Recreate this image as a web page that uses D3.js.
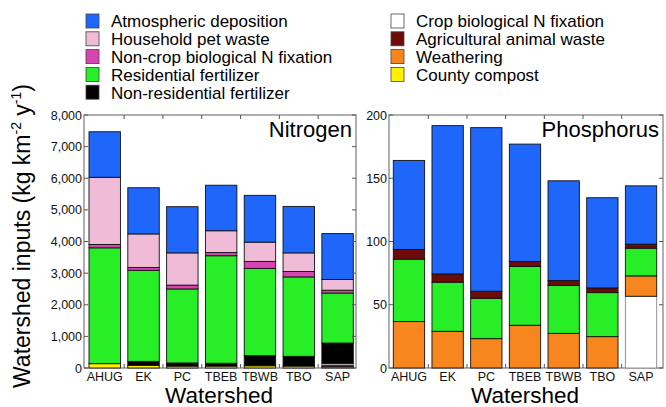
<!DOCTYPE html>
<html><head><meta charset="utf-8">
<script src="https://cdn.jsdelivr.net/npm/d3@7"></script>
<style>body{margin:0;background:#fff}svg{display:block}text{font-family:"Liberation Sans",Arial,sans-serif}</style>
</head><body>
<svg id="c" width="666" height="407"></svg>
<script>
const watersheds = ["AHUG","EK","PC","TBEB","TBWB","TBO","SAP"];
// Nitrogen (kg km-2 y-1)
const nCompost    = [137,85,60,60,70,60,40];
const nAgWaste    = [0,0,0,0,0,0,60];
const nCropFix    = [0,0,0,0,0,0,40];
const nNonResFert = [0,125,100,90,320,310,650];
const nResFert    = [3663,2880,2340,3400,2760,2510,1580];
const nNonCropFix = [105,90,120,100,220,170,90];
const nPetWaste   = [2125,1060,1020,690,610,590,340];
const nAtmDep     = [1440,1460,1460,1440,1480,1470,1450];
// Phosphorus
const pCropFix    = [0,0,0,0,0,0,56.7];
const pWeathering = [36.7,29,23.2,33.8,27.4,24.8,16.1];
const pResFert    = [49.3,38.8,31.9,46.4,37.8,34.8,21.9];
const pAgWaste    = [7.7,6.6,5.6,4,3.9,3.7,3.2];
const pAtmDep     = [70.4,117.2,129.3,92.8,78.9,71.3,46.1];
const nTicks = [0,1000,2000,3000,4000,5000,6000,7000,8000];
const pTicks = [0,50,100,150,200];

const legendLeft = ["Atmospheric deposition","Household pet waste","Non-crop biological N fixation","Residential fertilizer","Non-residential fertilizer"];
const legendRight = ["Crop biological N fixation","Agricultural animal waste","Weathering","County compost"];

const colors = {
  "Atmospheric deposition":"#1f66fb",
  "Household pet waste":"#efbbd6",
  "Non-crop biological N fixation":"#d645b2",
  "Residential fertilizer":"#27ee27",
  "Non-residential fertilizer":"#000000",
  "Crop biological N fixation":"#ffffff",
  "Agricultural animal waste":"#6c0b07",
  "Weathering":"#f7861f",
  "County compost":"#fff000"
};

const nSeries = [
  ["County compost", nCompost],
  ["Agricultural animal waste", nAgWaste],
  ["Crop biological N fixation", nCropFix],
  ["Non-residential fertilizer", nNonResFert],
  ["Residential fertilizer", nResFert],
  ["Non-crop biological N fixation", nNonCropFix],
  ["Household pet waste", nPetWaste],
  ["Atmospheric deposition", nAtmDep]
];
const pSeries = [
  ["Crop biological N fixation", pCropFix],
  ["Weathering", pWeathering],
  ["Residential fertilizer", pResFert],
  ["Agricultural animal waste", pAgWaste],
  ["Atmospheric deposition", pAtmDep]
];

const svg = d3.select("#c");

function panel(opts){
  const {fx0,fx1,fy0,fy1,bx0,bx1,domainMax,ticks,series,title,fmt} = opts;
  const x = d3.scaleBand().domain(watersheds).range([bx0,bx1]).paddingInner(0.19).paddingOuter(0);
  const y = d3.scaleLinear().domain([0,domainMax]).range([fy1,fy0]);
  const rows = watersheds.map((w,i)=>{const o={w}; series.forEach(([k,v])=>o[k]=v[i]); return o;});
  const stack = d3.stack().keys(series.map(s=>s[0]))(rows);
  const g = svg.append("g");
  g.append("rect").attr("x",fx0).attr("y",fy0).attr("width",fx1-fx0).attr("height",fy1-fy0)
    .attr("fill","none").attr("stroke","#7a7a7a").attr("stroke-width",1.2);
  stack.forEach(layer=>{
    g.append("g").selectAll("rect").data(layer.filter(d=>d[1]-d[0]>0)).join("rect")
      .attr("x",d=>x(d.data.w)).attr("width",x.bandwidth())
      .attr("y",d=>y(d[1])).attr("height",d=>y(d[0])-y(d[1]))
      .attr("fill",colors[layer.key])
      .attr("stroke",layer.key==="Crop biological N fixation"?"#888":"#111").attr("stroke-width",0.9);
  });
  ticks.forEach(t=>{
    g.append("line").attr("x1",fx0).attr("x2",fx0+4).attr("y1",y(t)).attr("y2",y(t)).attr("stroke","#555");
    g.append("line").attr("x1",fx1).attr("x2",fx1-4).attr("y1",y(t)).attr("y2",y(t)).attr("stroke","#555");
  });
  g.append("g").selectAll("text").data(ticks).join("text")
    .attr("x",fx0-2).attr("y",d=>y(d)+4.5).attr("text-anchor","end")
    .attr("font-size",12.5).attr("fill","#111").text(d=>fmt(d));
  const step = x.step();
  watersheds.slice(1).forEach(w=>{
    const bx = x(w) - (step - x.bandwidth())/2;
    g.append("line").attr("x1",bx).attr("x2",bx).attr("y1",fy0).attr("y2",fy0+4).attr("stroke","#555");
    g.append("line").attr("x1",bx).attr("x2",bx).attr("y1",fy1).attr("y2",fy1-4).attr("stroke","#555");
  });
  g.append("g").selectAll("text").data(watersheds).join("text")
    .attr("x",d=>x(d)+x.bandwidth()/2).attr("y",fy1+13).attr("text-anchor","middle")
    .attr("font-size",12.5).attr("fill","#111").text(d=>d);
  g.append("text").attr("x",fx1-4).attr("y",fy0+22).attr("text-anchor","end")
    .attr("font-size",22).attr("fill","#000").text(title);
  g.append("text").attr("x",(fx0+fx1)/2-1).attr("y",403).attr("text-anchor","middle")
    .attr("font-size",22.5).attr("fill","#000").text("Watershed");
}

panel({fx0:84,fx1:356,fy0:115,fy1:368,bx0:89,bx1:353.3,domainMax:8000,ticks:nTicks,series:nSeries,title:"Nitrogen",fmt:d3.format(",")});
panel({fx0:389,fx1:663,fy0:115,fy1:368,bx0:393.3,bx1:656.7,domainMax:200,ticks:pTicks,series:pSeries,title:"Phosphorus",fmt:d3.format("d")});

const yt = svg.append("text").attr("transform","translate(30,236) rotate(-90)")
  .attr("text-anchor","middle").attr("font-size",23).attr("fill","#000");
yt.append("tspan").text("Watershed inputs (kg km");
yt.append("tspan").attr("font-size",14).attr("dy",-9).text("-2");
yt.append("tspan").attr("dy",9).text(" y");
yt.append("tspan").attr("font-size",14).attr("dy",-9).text("-1");
yt.append("tspan").attr("dy",9).text(")");

function legend(items,x0,y0){
  const g = svg.append("g");
  items.forEach((k,i)=>{
    const cy = y0 + i*17.8;
    g.append("rect").attr("x",x0).attr("y",cy-7).attr("width",13).attr("height",14)
      .attr("fill",colors[k]).attr("stroke","#444").attr("stroke-width",0.8);
    g.append("text").attr("x",x0+25).attr("y",cy+6.3).attr("font-size",17).attr("fill","#000").text(k);
  });
}
legend(legendLeft,86,21);
legend(legendRight,391,21);
</script>
</body></html>
